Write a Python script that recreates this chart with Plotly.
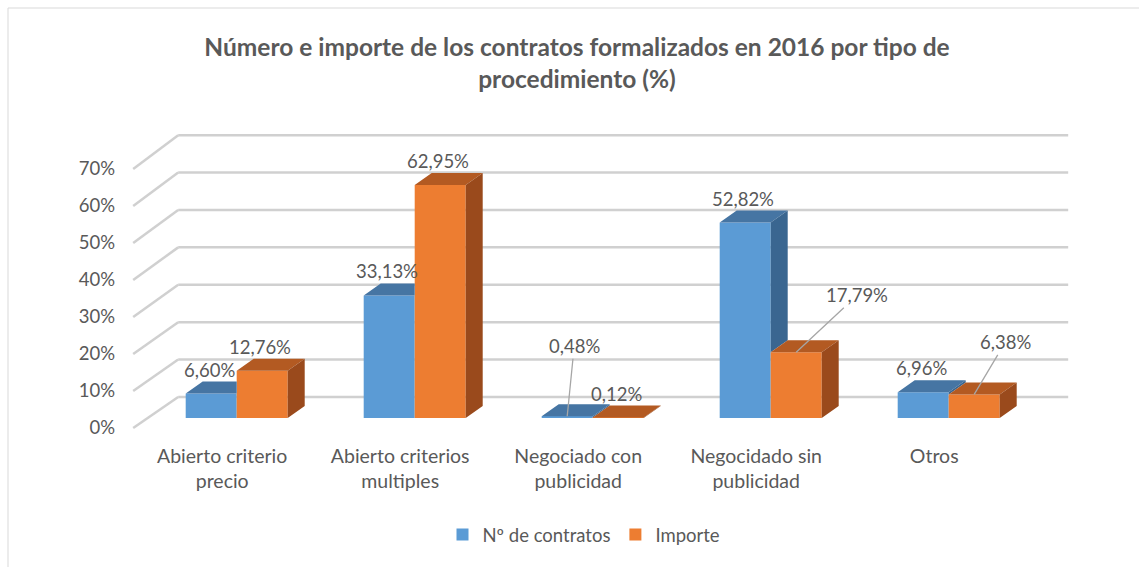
import plotly.graph_objects as go

# ---------------- data ----------------
categories = ["Abierto criterio precio", "Abierto criterios multiples",
              "Negociado con publicidad", "Negocidado sin publicidad", "Otros"]
cat_labels = ["Abierto criterio<br>precio", "Abierto criterios<br>multiples",
              "Negociado con<br>publicidad", "Negocidado sin<br>publicidad", "Otros"]
series_names = ["Nº de contratos", "Importe"]
contratos = [6.60, 33.13, 0.48, 52.82, 6.96]
importe = [12.76, 62.95, 0.12, 17.79, 6.38]
y_ticks = [0, 10, 20, 30, 40, 50, 60, 70]
y_tick_labels = ["0%", "10%", "20%", "30%", "40%", "50%", "60%", "70%"]

# ---------------- style / pseudo-3D geometry (axis units) ----------------
BLUE, BLUE_TOP, BLUE_SIDE = "#5B9BD5", "#4675A3", "#3A6690"
ORANGE, ORANGE_TOP, ORANGE_SIDE = "#ED7D31", "#B35A22", "#9A4A1C"
TXT = "#595959"
GRID = "#D0D0D0"
FONT = "Lato"
FS = 18.5

W = 0.2865          # bar width (category units)
DX, DY = 0.0955, 3.243   # bar depth projection
BX, BY, KB = 0.1713, 5.676, 1.011   # back wall offset / scale
FX, FY = -0.0815, -2.703            # front floor edge offset

n = len(categories)
xs = list(range(n))


def fmt(v):
    return f"{v:.2f}".replace(".", ",") + "%"


fig = go.Figure()

# front faces as real bars
fig.add_trace(go.Bar(x=xs, y=contratos, width=W, offset=-W, name=series_names[0],
                     marker=dict(color=BLUE, line=dict(width=0)), hoverinfo="skip"))
fig.add_trace(go.Bar(x=xs, y=importe, width=W, offset=0, name=series_names[1],
                     marker=dict(color=ORANGE, line=dict(width=0)), hoverinfo="skip"))

# top & side faces
bt_x, bt_y, bs_x, bs_y, ot_x, ot_y, os_x, os_y = [], [], [], [], [], [], [], []
for i in xs:
    vb, vo = contratos[i], importe[i]
    x0, x1, x2 = i - W, i, i + W
    # blue top (clipped where orange front hides it)
    if vo <= vb:
        px = [x0, x1, x1 + DX, x0 + DX, x0]
        py = [vb, vb, vb + DY, vb + DY, vb]
    elif vo >= vb + DY:
        px = [x0, x1, x1, x0 + DX, x0]
        py = [vb, vb, vb + DY, vb + DY, vb]
    else:
        t = (vo - vb) / DY
        px = [x0, x1, x1, x1 + DX * t, x1 + DX, x0 + DX, x0]
        py = [vb, vb, vo, vo, vb + DY, vb + DY, vb]
    bt_x += px + [None]
    bt_y += py + [None]
    # blue side visible above orange
    if vb > vo:
        bs_x += [x1, x1, x1 + DX, x1 + DX, x1, None]
        bs_y += [vo, vb, vb + DY, vo + DY, vo, None]
    # orange top & side
    ot_x += [x1, x2, x2 + DX, x1 + DX, x1, None]
    ot_y += [vo, vo, vo + DY, vo + DY, vo, None]
    os_x += [x2, x2, x2 + DX, x2 + DX, x2, None]
    os_y += [0, vo, vo + DY, DY, 0, None]

for fx, fy, col in [(bt_x, bt_y, BLUE_TOP), (bs_x, bs_y, BLUE_SIDE),
                    (ot_x, ot_y, ORANGE_TOP), (os_x, os_y, ORANGE_SIDE)]:
    fig.add_trace(go.Scatter(x=fx, y=fy, mode="lines", fill="toself", fillcolor=col,
                             line=dict(width=0, color=col), showlegend=False,
                             hoverinfo="skip"))

# back wall gridlines and side diagonals
shapes = []
for v in y_ticks:
    shapes.append(dict(type="line", xref="x", yref="y", layer="below",
                       x0=-0.5 + BX, x1=n - 0.5 + BX, y0=v * KB + BY, y1=v * KB + BY,
                       line=dict(color=GRID, width=2.5)))
    shapes.append(dict(type="line", xref="x", yref="y", layer="below",
                       x0=-0.5 + FX, x1=-0.5 + BX, y0=v + FY, y1=v * KB + BY,
                       line=dict(color=GRID, width=2.5)))
# outer chart border
shapes.append(dict(type="rect", xref="paper", yref="paper",
                   x0=(8 - 120) / 960, x1=(1150 - 120) / 960,
                   y0=(440 - 580) / 320, y1=(440 - 8) / 320,
                   line=dict(color="#D9D9D9", width=1), fillcolor="rgba(0,0,0,0)",
                   layer="below"))

# data labels
leader = {(0, 2): (7, -70), (1, 3): (61, -57), (1, 4): (31, -52)}
annotations = []
for s, vals in enumerate([contratos, importe]):
    for i in xs:
        xc = i - W / 2 if s == 0 else i + W / 2
        key = (s, i)
        if key in leader:
            ax, ay = leader[key]
            annotations.append(dict(x=xc, y=vals[i], xref="x", yref="y", text=fmt(vals[i]),
                                    showarrow=True, arrowhead=0, arrowwidth=1.3,
                                    arrowcolor="#A6A6A6", ax=ax, ay=ay,
                                    font=dict(family=FONT, size=FS, color=TXT)))
        else:
            annotations.append(dict(x=xc, y=vals[i], xref="x", yref="y", text=fmt(vals[i]),
                                    showarrow=False, yshift=24, xshift=-2,
                                    font=dict(family=FONT, size=FS, color=TXT)))

fig.update_layout(
    width=1139, height=567,
    margin=dict(l=120, r=59, t=120, b=127),
    paper_bgcolor="white", plot_bgcolor="white",
    barmode="overlay",
    title=dict(text="Número e importe de los contratos formalizados en 2016 por tipo de<br>procedimiento (%)",
               font=dict(family=FONT, size=24.5, color=TXT, weight="bold"),
               x=577 / 1139, xanchor="center", xref="container",
               y=1 - 56 / 567, yanchor="top", yref="container"),
    xaxis=dict(range=[(120 - 236.7) / 178, (1080 - 236.7) / 178],
               showgrid=False, zeroline=False, showline=False,
               tickvals=[i + FX for i in xs], ticktext=cat_labels, ticks="",
               ticklabelstandoff=2,
               tickfont=dict(family=FONT, size=19.5, color=TXT), fixedrange=True),
    yaxis=dict(range=[(418 - 440) / 3.7, (418 - 120) / 3.7],
               showgrid=False, zeroline=False, showline=False,
               tickvals=[v + FY for v in y_ticks], ticktext=y_tick_labels, ticks="",
               ticklabelstandoff=4,
               tickfont=dict(family=FONT, size=FS, color=TXT), fixedrange=True),
    legend=dict(orientation="h", x=(584 - 120) / 960, xanchor="center",
                y=(440 - 535) / 320, yanchor="middle",
                font=dict(family=FONT, size=FS, color=TXT), bgcolor="rgba(0,0,0,0)"),
    shapes=shapes,
    annotations=annotations,
    showlegend=True,
)

fig.write_html("out.html", config={"displayModeBar": False},
               post_script="document.body.style.margin='0';document.body.style.overflow='hidden';")
